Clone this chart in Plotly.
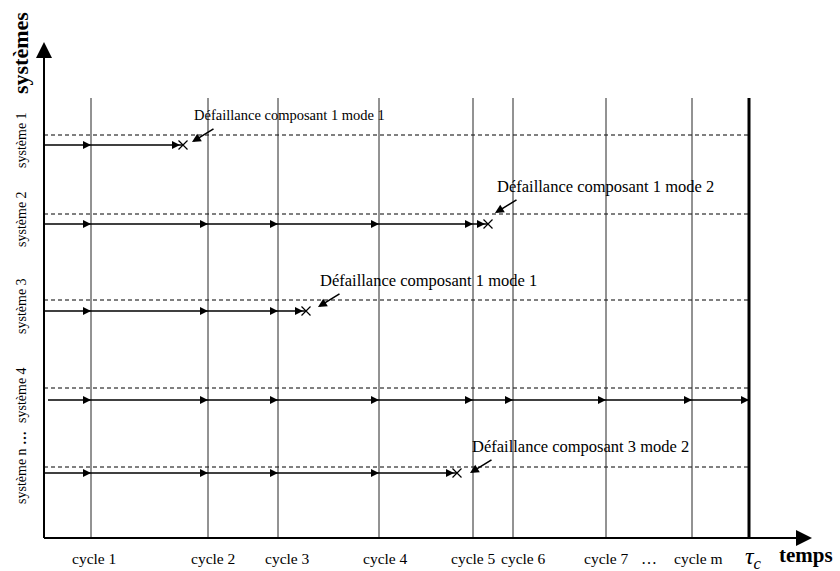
import plotly.graph_objects as go

# ---------------- data ----------------
cycle_labels = ["cycle 1", "cycle 2", "cycle 3", "cycle 4", "cycle 5",
                "cycle 6", "cycle 7", "cycle m"]
cycle_times = [47, 164, 234, 335, 429, 469, 562, 648]
tau_c = 705
time_axis_end = 768
system_axis_end = 496
cycle_line_top = 440

system_labels = ["système 1", "système 2", "système 3", "système 4",
                 "système n <b>…</b>"]
system_levels = [393, 314, 227, 138, 65]
separator_levels = [403, 324, 238, 150, 71]
start_times = [0, 0, 0, 4, 0]
failure_times = [139, 444, 262, None, 413]
failure_texts = ["Défaillance composant 1 mode 1",
                 "Défaillance composant 1 mode 2",
                 "Défaillance composant 1 mode 1",
                 None,
                 "Défaillance composant 3 mode 2"]

# ---------------- styles ----------------
FONT = "Liberation Serif"
# per-callout (tip dx, tip dy, font size)
callout_style = [(9, 3, 14.5), (7, 11, 16.5), (12, 4, 16.5), None, (13, 0, 16.5)]
TAIL_DX, TAIL_DY, TEXT_DY = 23, 14, 27
label_shift = [3, 5, 9, 6, 0, 10, 0, 6]

fig = go.Figure()

# separators (dashed)
for lv in separator_levels:
    fig.add_trace(go.Scatter(x=[0, tau_c], y=[lv, lv], mode="lines",
                             line=dict(color="black", width=1, dash="4px,3px"),
                             hoverinfo="skip"))

# cycle lines
for t in cycle_times:
    fig.add_trace(go.Scatter(x=[t, t], y=[0, cycle_line_top], mode="lines",
                             line=dict(color="#262626", width=1), hoverinfo="skip"))
# tau_c line
fig.add_trace(go.Scatter(x=[tau_c, tau_c], y=[0, cycle_line_top], mode="lines",
                         line=dict(color="black", width=3), hoverinfo="skip"))

# system timelines
for i, lv in enumerate(system_levels):
    ft = failure_times[i]
    end = ft if ft is not None else tau_c
    fig.add_trace(go.Scatter(x=[start_times[i], end], y=[lv, lv], mode="lines",
                             line=dict(color="black", width=1.3), hoverinfo="skip"))
    heads = [t for t in cycle_times if t < end]
    if ft is not None:
        heads.append(ft - 3)
    else:
        heads.append(tau_c)
    fig.add_trace(go.Scatter(x=heads, y=[lv] * len(heads), mode="markers",
                             marker=dict(symbol="arrow-right", size=8, color="black",
                                         line=dict(width=0)),
                             hoverinfo="skip"))
    if ft is not None:
        fig.add_trace(go.Scatter(x=[ft], y=[lv], mode="markers",
                                 marker=dict(symbol="x-thin", size=9,
                                             line=dict(width=1.2, color="black")),
                                 hoverinfo="skip"))
        dx, dy, fs = callout_style[i]
        tx, ty = ft + dx, lv + dy
        fig.add_annotation(x=tx, y=ty, ax=tx + TAIL_DX, ay=ty + TAIL_DY,
                           xref="x", yref="y", axref="x", ayref="y",
                           showarrow=True, arrowhead=2, arrowsize=1.1,
                           arrowwidth=1.6, arrowcolor="black", text="")
        fig.add_annotation(x=tx, y=ty + TEXT_DY, xref="x", yref="y",
                           text=failure_texts[i], showarrow=False,
                           xanchor="left", yanchor="middle",
                           font=dict(family=FONT, size=fs, color="black"))

# axes
fig.add_trace(go.Scatter(x=[0, 0], y=[0, system_axis_end - 8], mode="lines",
                         line=dict(color="black", width=2), hoverinfo="skip"))
fig.add_trace(go.Scatter(x=[0, time_axis_end - 8], y=[0, 0], mode="lines",
                         line=dict(color="black", width=2), hoverinfo="skip"))
fig.add_trace(go.Scatter(x=[0], y=[system_axis_end], mode="markers",
                         marker=dict(symbol="arrow-up", size=16, color="black",
                                     line=dict(width=0)), hoverinfo="skip"))
fig.add_trace(go.Scatter(x=[time_axis_end], y=[0], mode="markers",
                         marker=dict(symbol="arrow-right", size=16, color="black",
                                     line=dict(width=0)), hoverinfo="skip"))

# system labels
for lab, lv in zip(system_labels, system_levels):
    fig.add_annotation(x=-23, y=lv + 5, xref="x", yref="y", text=lab,
                       showarrow=False, textangle=-90,
                       font=dict(family=FONT, size=14, color="black"))

# cycle labels
for lab, t, sh in zip(cycle_labels, cycle_times, label_shift):
    fig.add_annotation(x=t, y=-20, xref="x", yref="y", text=lab, showarrow=False,
                       xshift=sh, font=dict(family=FONT, size=15.5, color="black"))
fig.add_annotation(x=(cycle_times[-2] + cycle_times[-1]) / 2, y=-20, xref="x", yref="y",
                   text="…", showarrow=False,
                   font=dict(family=FONT, size=16, color="black"))
fig.add_annotation(x=tau_c, y=-20, xref="x", yref="y", xshift=4,
                   text="<i>τ</i><sub><i>c</i></sub>", showarrow=False,
                   font=dict(family=FONT, size=24, color="black"))
fig.add_annotation(x=time_axis_end - 6, y=-17, xref="x", yref="y",
                   text="<b>temps</b>", showarrow=False,
                   font=dict(family=FONT, size=21, color="black"))
fig.add_annotation(x=-24, y=485, xref="x", yref="y", text="<b>systèmes</b>",
                   showarrow=False, textangle=-90,
                   font=dict(family=FONT, size=22, color="black"))

fig.update_layout(width=840, height=571, margin=dict(l=0, r=0, t=0, b=0),
                  paper_bgcolor="white", plot_bgcolor="white", showlegend=False,
                  xaxis=dict(range=[-44, 796], visible=False, fixedrange=True),
                  yaxis=dict(range=[-33, 538], visible=False, fixedrange=True))

fig.write_html("out.html", config={"displayModeBar": False},
               post_script="document.body.style.margin='0';"
                           "document.body.style.overflow='hidden';")
